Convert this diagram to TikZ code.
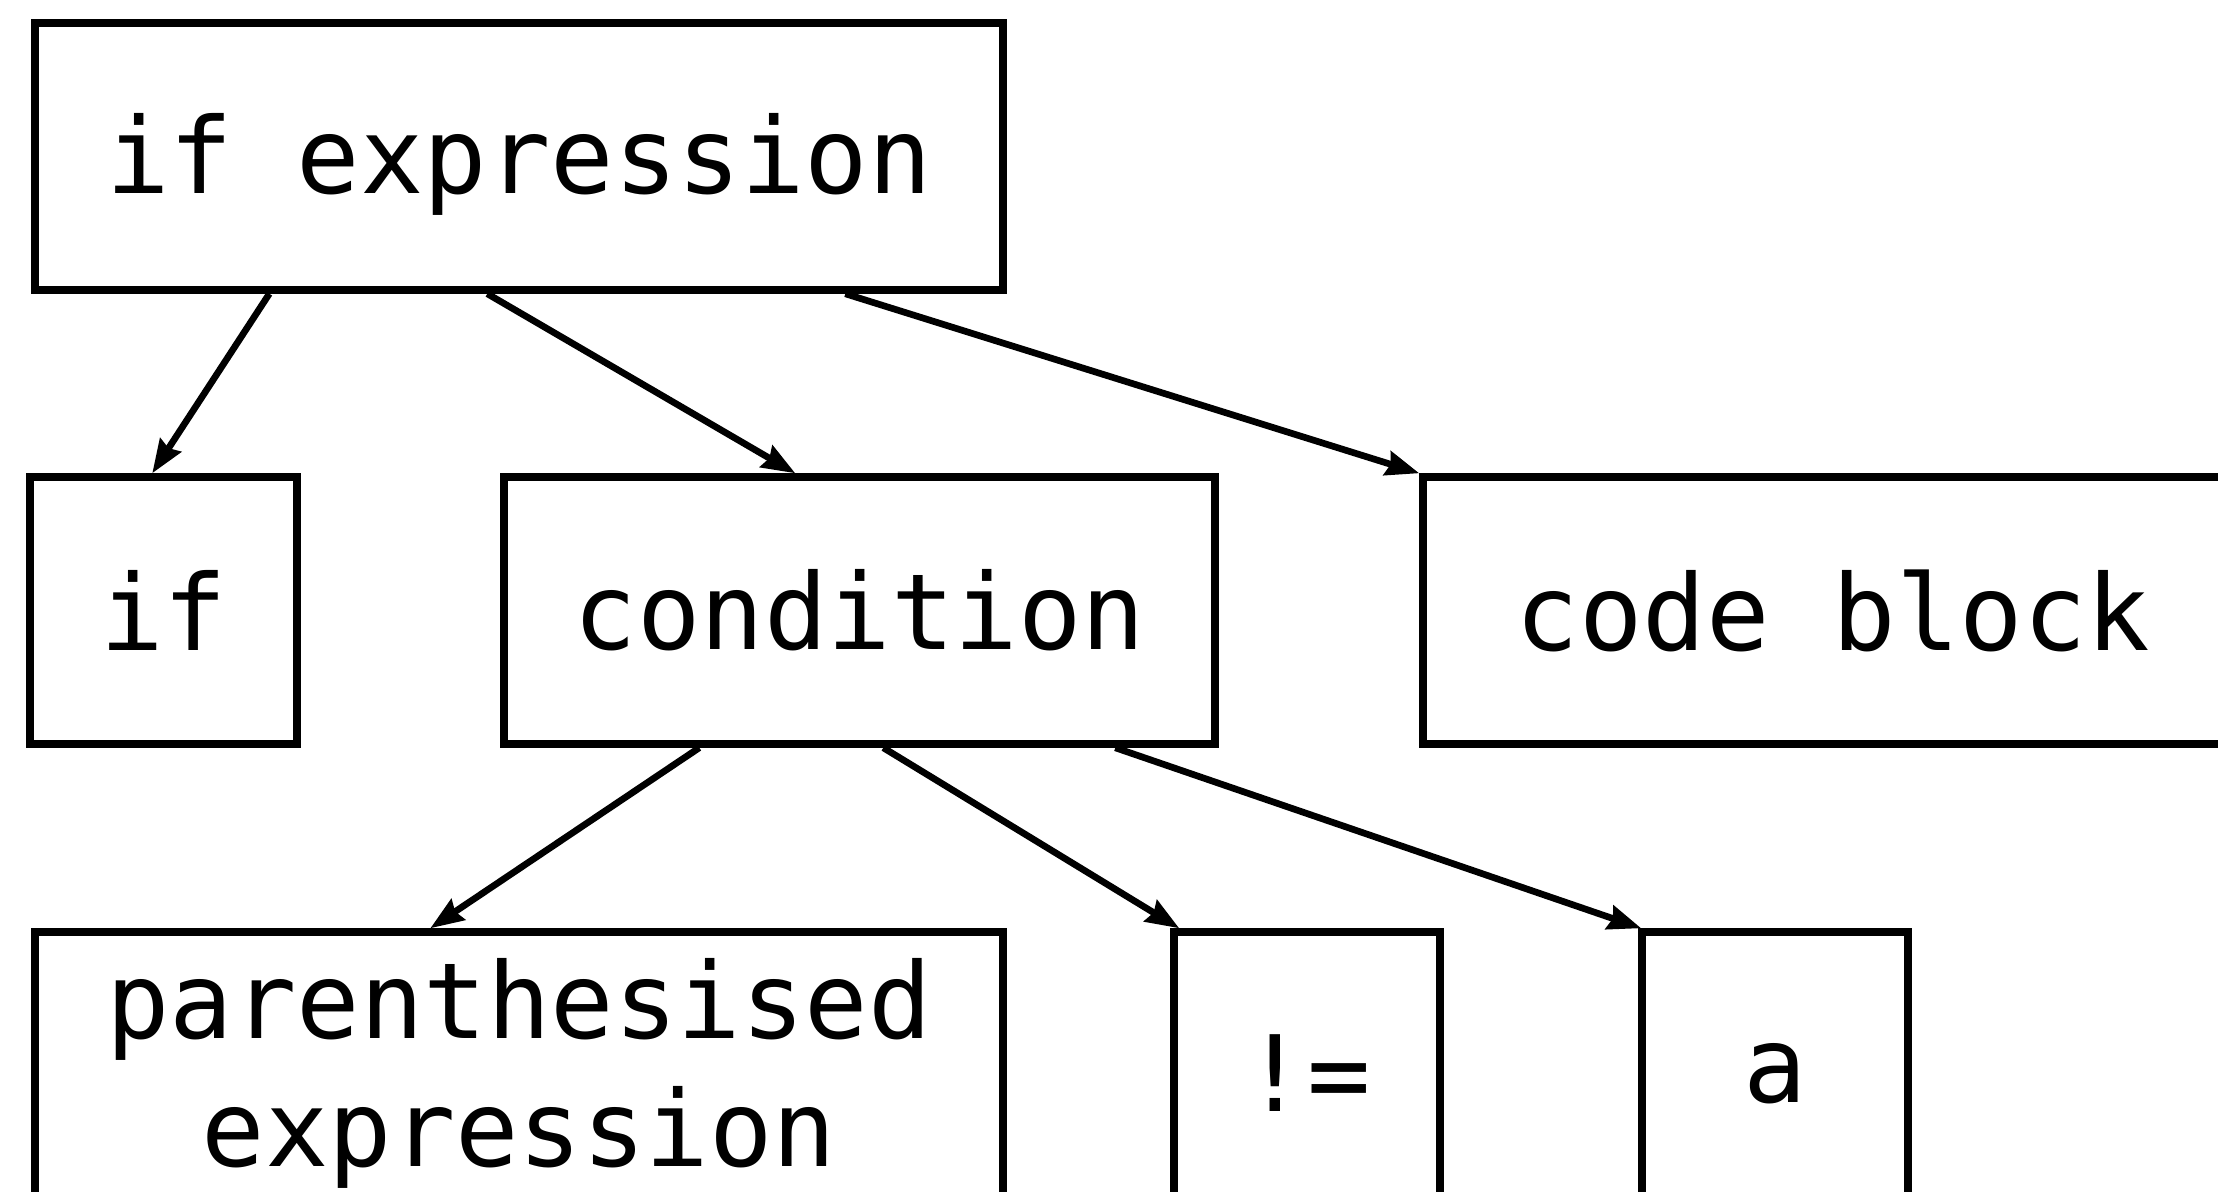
\documentclass[tikz,border=0pt]{standalone}
\usepackage{fontspec}
\setmonofont{DejaVu Sans Mono}
\usetikzlibrary{arrows.meta,calc}
\tikzstyle{astarrow} = [line width=3.8pt,-{Stealth[length=19pt,width=14pt,inset=2pt]}]
\tikzstyle{astnode} = [rectangle, draw, line width=4.3pt, minimum height=5.34cm, inner sep=0pt, align=center, font=\ttfamily\fontsize{60}{73}\selectfont]
\newcommand{\lowtext}[1]{\raisebox{-4.5pt}[\height][\depth]{#1}}

\begin{document}
\begin{tikzpicture}[x=0.02cm, y=-0.02cm]
    \clip (0,0) rectangle (2218,1191);

    % Root of the tree
    \node[astnode, minimum width=19.36cm] (ifexpr) at (519,156.5) {\lowtext{if expression}};

    % Children of the if expression
    \node[astnode, minimum width=5.34cm] (ifkw) at (163.5,610.5) {if};
    \node[astnode, minimum width=14.22cm] (cond) at (859.5,610.5) {condition};
    \node[astnode, minimum width=16.4cm] (block) at (1833,610.5) {code block};

    % Children of the condition
    \node[astnode, minimum width=19.36cm] (paren) at (519,1065.5) {\lowtext{parenthesised}\\\lowtext{expression}};
    \node[astnode, minimum width=5.32cm] (neq) at (1307,1065.5) {\lowtext{!=}};
    \node[astnode, minimum width=5.32cm] (avar) at (1775,1065.5) {\lowtext{a}};

    % Edges
    \draw[astarrow] ($(ifexpr.south west)+(238,0)$) -- ($(ifkw.north west)+(126,0)$);
    \draw[astarrow] ($(ifexpr.south west)+(456,0)$) -- ($(cond.north west)+(295,0)$);
    \draw[astarrow] ($(ifexpr.south west)+(814,0)$) -- (block.north west);

    \draw[astarrow] ($(cond.south west)+(199,0)$) -- ($(paren.north west)+(399,0)$);
    \draw[astarrow] ($(cond.south west)+(383,0)$) -- ($(neq.north west)+(9,0)$);
    \draw[astarrow] ($(cond.south west)+(615,0)$) -- ($(avar.north west)+(3,0)$);
\end{tikzpicture}
\end{document}
